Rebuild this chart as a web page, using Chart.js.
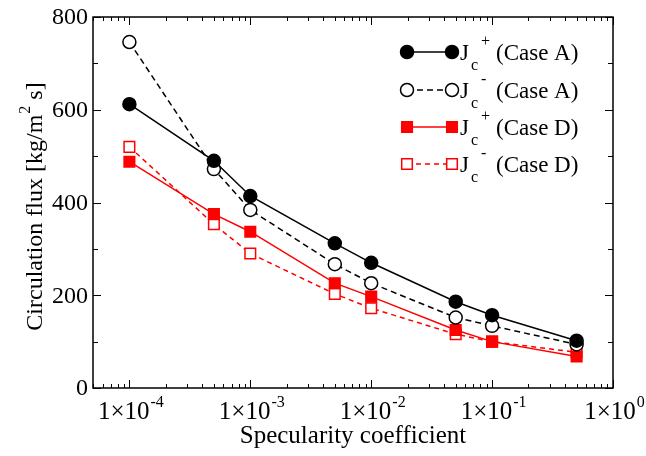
<!DOCTYPE html>
<html>
<head>
<meta charset="utf-8">
<script src="https://cdn.jsdelivr.net/npm/chart.js@4/dist/chart.umd.min.js"></script>
<style>
  html, body { margin: 0; padding: 0; background: #fff; }
  #wrap { width: 646px; height: 456px; }
</style>
</head>
<body>
<div id="wrap"><canvas id="c" width="646" height="456"></canvas></div>
<script>
// Coefficients de spécularité (axe x, log)
const speculars = [1e-4, 5e-4, 1e-3, 5e-3, 1e-2, 5e-2, 1e-1, 5e-1];
// Flux de circulation [kg/m2 s]
const jPlusA  = [612, 490, 414, 312, 270, 186, 157, 102];
const jMinusA = [746, 472, 384, 267, 226, 152, 134, 94];
const jPlusD  = [488, 375, 337, 226, 197, 125, 100, 68];
const jMinusD = [520, 353, 290, 203, 172, 116, 100, 77];
// Graduations
const xMajor = [1e-4, 1e-3, 1e-2, 1e-1, 1e0];
const xExpo  = ['-4', '-3', '-2', '-1', '0'];
const yMajor = [0, 200, 400, 600, 800];
const yMinor = [100, 300, 500, 700];
const legendCase = ['(Case A)', '(Case A)', '(Case D)', '(Case D)'];
const legendSign = ['+', '-', '+', '-'];

const SERIF = '"Liberation Serif", "Times New Roman", serif';
const RED = '#ff0000';

function pts(ys) {
  return speculars.map(function (x, i) { return { x: x, y: ys[i] }; });
}

// Séries : couleur, style de trait, marqueur
const series = [
  { data: jPlusA,  color: '#000', dash: [],     style: 'circle', fill: '#000', r: 6.5 },
  { data: jMinusA, color: '#000', dash: [6, 4], style: 'circle', fill: '#fff', r: 6.5 },
  { data: jPlusD,  color: RED,    dash: [],     style: 'rect',   fill: RED,    r: 7.5 },
  { data: jMinusD, color: RED,    dash: [5, 4], style: 'rect',   fill: '#fff', r: 7.5 }
];

function marker(ctx, s, x, y) {
  ctx.save();
  ctx.setLineDash([]);
  ctx.lineWidth = 1.5;
  ctx.strokeStyle = s.color;
  ctx.fillStyle = s.fill;
  ctx.beginPath();
  if (s.style === 'circle') {
    ctx.arc(x, y, s.r, 0, Math.PI * 2);
  } else {
    const h = s.r * Math.SQRT1_2;
    ctx.rect(x - h, y - h, 2 * h, 2 * h);
  }
  ctx.fill();
  ctx.stroke();
  ctx.restore();
}

const decor = {
  id: 'decor',
  beforeDatasetsDraw(chart) {
    const ctx = chart.ctx, a = chart.chartArea;
    ctx.save();
    ctx.strokeStyle = '#000';
    ctx.lineWidth = 1.5;
    ctx.strokeRect(a.left, a.top, a.right - a.left, a.bottom - a.top);
    ctx.restore();
  },
  afterDraw(chart) {
    const ctx = chart.ctx, a = chart.chartArea;
    const xs = chart.scales.x, ys = chart.scales.y;
    ctx.save();
    ctx.strokeStyle = '#000';
    ctx.lineWidth = 1;
    ctx.beginPath();
    // graduations x (dedans, haut et bas)
    for (let e = -5; e <= 0; e++) {
      for (let m = 1; m <= 9; m++) {
        const v = m * Math.pow(10, e);
        if (v < xs.min || v > xs.max) continue;
        const px = Math.round(xs.getPixelForValue(v)) + 0.5;
        const len = m === 1 ? 8 : 4;
        ctx.moveTo(px, a.bottom); ctx.lineTo(px, a.bottom - len);
        ctx.moveTo(px, a.top); ctx.lineTo(px, a.top + len);
      }
    }
    // graduations y (dedans, gauche et droite)
    yMajor.concat(yMinor).forEach(function (v) {
      const py = Math.round(ys.getPixelForValue(v)) + 0.5;
      const len = yMajor.indexOf(v) >= 0 ? 8 : 5;
      ctx.moveTo(a.left, py); ctx.lineTo(a.left + len, py);
      ctx.moveTo(a.right, py); ctx.lineTo(a.right - len, py);
    });
    ctx.stroke();

    ctx.fillStyle = '#000';
    // étiquettes y
    ctx.font = '24px ' + SERIF;
    ctx.textAlign = 'right';
    ctx.textBaseline = 'middle';
    yMajor.forEach(function (v) {
      ctx.fillText(String(v), a.left - 5, ys.getPixelForValue(v) + 1);
    });
    // étiquettes x : 1×10^n
    ctx.textAlign = 'left';
    ctx.textBaseline = 'alphabetic';
    xMajor.forEach(function (v, i) {
      ctx.font = '25px ' + SERIF;
      const base = '1\u00d710';
      const wb = ctx.measureText(base).width;
      ctx.font = '16px ' + SERIF;
      const we = ctx.measureText(xExpo[i]).width;
      const x0 = xs.getPixelForValue(v) - (wb + we) / 2 + 1;
      ctx.font = '25px ' + SERIF;
      ctx.fillText(base, x0, 419);
      ctx.font = '16px ' + SERIF;
      ctx.fillText(xExpo[i], x0 + wb + 1, 407);
    });
    // titre x
    ctx.font = '25px ' + SERIF;
    ctx.textAlign = 'center';
    ctx.fillText('Specularity coefficient', (a.left + a.right) / 2, 443);

    // titre y
    ctx.save();
    ctx.translate(42, 207);
    ctx.rotate(-Math.PI / 2);
    ctx.textAlign = 'left';
    const t1 = 'Circulation flux [kg/m', t2 = '2', t3 = ' s]';
    ctx.font = '24px ' + SERIF;
    const w1 = ctx.measureText(t1).width, w3 = ctx.measureText(t3).width;
    ctx.font = '16px ' + SERIF;
    const w2 = ctx.measureText(t2).width;
    let x = -(w1 + w2 + w3) / 2;
    ctx.font = '24px ' + SERIF;
    ctx.fillText(t1, x, 0);
    ctx.font = '16px ' + SERIF;
    ctx.fillText(t2, x + w1 + 1, -12);
    ctx.font = '24px ' + SERIF;
    ctx.fillText(t3, x + w1 + w2 + 1, 0);
    ctx.restore();

    // légende
    const rows = [52, 90, 127, 164];
    series.forEach(function (s, i) {
      const y = rows[i];
      ctx.save();
      ctx.strokeStyle = s.color;
      ctx.lineWidth = 1.5;
      ctx.setLineDash(s.dash);
      ctx.beginPath();
      ctx.moveTo(407, y); ctx.lineTo(452, y);
      ctx.stroke();
      ctx.restore();
      marker(ctx, s, 407, y);
      marker(ctx, s, 452, y);
      ctx.fillStyle = '#000';
      ctx.textAlign = 'left';
      ctx.font = '23px ' + SERIF;
      ctx.fillText('J', 460, y + 8);
      ctx.font = '16px ' + SERIF;
      ctx.fillText('c', 471, y + 18);
      ctx.fillText(legendSign[i], 481, y - 6);
      ctx.font = '23px ' + SERIF;
      ctx.fillText(legendCase[i], 496, y + 8);
    });
    ctx.restore();
  }
};

new Chart(document.getElementById('c').getContext('2d'), {
  type: 'line',
  data: {
    datasets: series.map(function (s) {
      return {
        data: pts(s.data),
        borderColor: s.color,
        borderWidth: 1.5,
        borderDash: s.dash,
        backgroundColor: s.fill,
        pointStyle: s.style,
        pointRadius: s.r,
        pointHoverRadius: s.r,
        pointBorderWidth: 1.5,
        pointBorderColor: s.color,
        pointBackgroundColor: s.fill,
        tension: 0,
        fill: false
      };
    })
  },
  options: {
    responsive: false,
    animation: false,
    events: [],
    layout: { padding: { left: 93, top: 17, right: 33, bottom: 68 } },
    plugins: { legend: { display: false }, tooltip: { enabled: false } },
    scales: {
      x: { type: 'logarithmic', min: 5e-5, max: 1, display: false },
      y: { type: 'linear', min: 0, max: 800, display: false }
    }
  },
  plugins: [decor]
});
</script>
</body>
</html>
